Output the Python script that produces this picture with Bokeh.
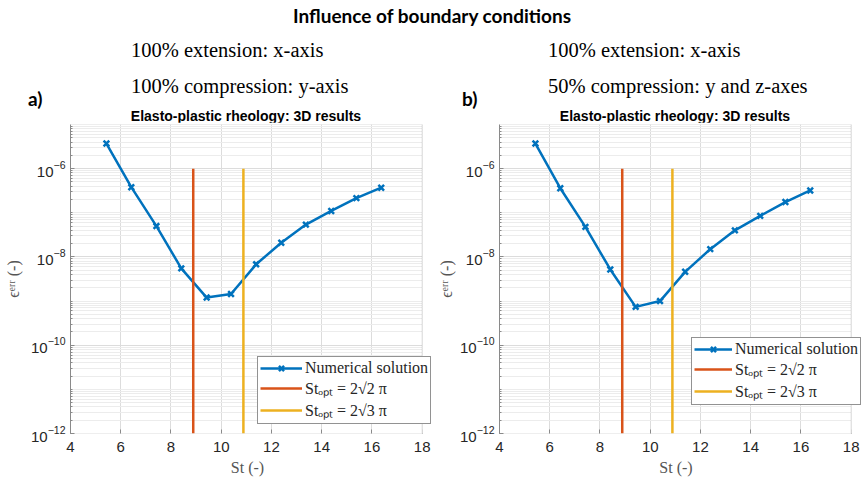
from bokeh.plotting import figure
from bokeh.models import FixedTicker, Legend, LegendItem, Div, ColumnDataSource, BoxAnnotation
from bokeh.layouts import column, row
from bokeh.embed import file_html
from bokeh.resources import INLINE

# ---------------- data ----------------
st = [5.43, 6.42, 7.42, 8.41, 9.42, 10.39, 11.39, 12.39, 13.37, 14.38, 15.38, 16.37]
err_a = [3.7e-6, 3.8e-7, 5.0e-8, 5.5e-9, 1.2e-9, 1.45e-9, 6.8e-9, 2.1e-8, 5.4e-8, 1.1e-7, 2.15e-7, 3.7e-7]
err_b = [3.7e-6, 3.6e-7, 4.8e-8, 5.2e-9, 7.4e-10, 1.0e-9, 4.6e-9, 1.5e-8, 4.0e-8, 8.5e-8, 1.75e-7, 3.2e-7]
st_opt = [8.886, 10.883]          # 2*sqrt(2)*pi, 2*sqrt(3)*pi
opt_y = [1e-12, 1e-6]
x_ticks = [4, 6, 8, 10, 12, 14, 16, 18]
y_ticks = [1e-12, 1e-10, 1e-8, 1e-6]
main_title = "Influence of boundary conditions"
panel_title = "Elasto-plastic rheology: 3D results"
sub_a = ["100% extension: x-axis", "100% compression: y-axis"]
sub_b = ["100% extension: x-axis", "50% compression: y and z-axes"]
legend_labels = ["Numerical solution", "Stₒₚₜ = 2√2 π", "Stₒₚₜ = 2√3 π"]

BLUE = "#0072BD"
RED = "#D95319"
YEL = "#EDB120"
TXT = "#262626"
FRAME = "#8a8a8a"

minor = []
for e in range(-12, -5):
    for k in range(1, 10):
        minor.append(k * 10.0 ** e)

PX_PER_UNIT = 25.12   # horizontal scale of the reference axes
TOP_H = 122
FIG_H = 480 - TOP_H


def make_panel(yvals, b_left, fig_w, leg_loc, pad_label, ylab_standoff, glyph_w):
    frame_w = fig_w - b_left
    x_end = 4 + frame_w / PX_PER_UNIT
    p = figure(width=fig_w, height=FIG_H, y_axis_type="log", x_range=(4, x_end), y_range=(1e-12, 1e-5),
               output_backend="svg", toolbar_location=None,
               min_border_left=b_left, min_border_right=0, min_border_top=2, min_border_bottom=47)
    p.background_fill_color = "white"
    p.border_fill_color = "white"
    p.outline_line_color = None

    xt = FixedTicker(ticks=x_ticks)
    yt = FixedTicker(ticks=y_ticks, minor_ticks=minor)
    p.xaxis.ticker = xt
    p.xgrid.ticker = xt
    p.yaxis.ticker = yt
    p.ygrid.ticker = yt

    for ax in (p.xaxis[0], p.yaxis[0]):
        ax.axis_line_color = FRAME
        ax.major_tick_line_color = FRAME
        ax.minor_tick_line_color = FRAME
        ax.major_tick_in = 4
        ax.major_tick_out = 0
        ax.minor_tick_in = 2
        ax.minor_tick_out = 0
        ax.major_label_text_font = "Liberation Sans"
        ax.major_label_text_font_size = "15px"
        ax.major_label_text_color = TXT
        ax.axis_label_text_font = "Liberation Serif"
        ax.axis_label_text_font_size = "16px"
        ax.axis_label_text_font_style = "normal"
        ax.axis_label_text_color = "#555555"
    p.xaxis.axis_line_color = None
    p.xaxis.minor_tick_line_color = None
    p.xaxis.major_label_standoff = 8
    p.yaxis.major_label_standoff = 5
    p.xaxis.axis_label = "St (-)" + "\u00a0" * pad_label
    p.yaxis.axis_label = "ϵᵉʳʳ (-)"
    p.xaxis.axis_label_standoff = 4
    p.yaxis.axis_label_standoff = ylab_standoff

    p.xgrid.grid_line_color = "#dcdcdc"
    p.ygrid.grid_line_color = "#dcdcdc"
    p.ygrid.minor_grid_line_color = "#ececec"

    src = ColumnDataSource(dict(x=st, y=yvals))
    ln = p.line("x", "y", source=src, line_color=BLUE, line_width=2.5)
    sc = p.scatter("x", "y", source=src, marker="x", size=8, line_color=BLUE, line_width=2.5)
    r1 = p.line([st_opt[0], st_opt[0]], opt_y, line_color=RED, line_width=2.5)
    r2 = p.line([st_opt[1], st_opt[1]], opt_y, line_color=YEL, line_width=2.5)

    # blank the strip right of x = 18 and draw the axes box
    p.add_layout(BoxAnnotation(left=18, fill_color="white", fill_alpha=1, line_color=None))
    p.add_layout(BoxAnnotation(left=4, right=18, bottom=1e-12, top=1e-5, fill_alpha=0,
                               line_color=FRAME, line_width=1))

    leg = Legend(items=[LegendItem(label=legend_labels[0], renderers=[ln, sc]),
                        LegendItem(label=legend_labels[1], renderers=[r1]),
                        LegendItem(label=legend_labels[2], renderers=[r2])],
                 location=leg_loc)
    leg.label_text_font = "Liberation Serif"
    leg.label_text_font_size = "16px"
    leg.label_text_color = TXT
    leg.border_line_color = "#262626"
    leg.border_line_width = 1
    leg.background_fill_alpha = 1
    leg.padding = 2
    leg.spacing = 0
    leg.margin = 0
    leg.glyph_width = glyph_w
    leg.glyph_height = 18
    leg.label_height = 18
    leg.label_standoff = 3
    p.add_layout(leg, "center")
    return p


pa = make_panel(err_a, 70, 432, (187, 9), 2, 6, 42)
pb = make_panel(err_b, 67, 432, (192, 28), 3, 2, 38)


def span(txt, left, top, font, extra=""):
    return ('<span style="position:absolute;left:%dpx;top:%dpx;transform:translateY(-50%%)%s;'
            'white-space:nowrap;line-height:1;font:%s;color:black">%s</span>' % (left, top, extra, font, txt))


serif = "20.5px 'Liberation Serif'"
html = '<div style="position:relative;width:864px;height:%dpx;">' % TOP_H
html += ('<div style="position:absolute;left:0;top:15px;width:864px;text-align:center;transform:translateY(-50%);'
         'line-height:1;font:bold 19px Lato;color:black">' + main_title + '</div>')
html += span(sub_a[0], 131, 50, serif)
html += span(sub_a[1], 131, 86, serif)
html += span(sub_b[0], 548, 50, serif)
html += span(sub_b[1], 548, 86, serif)
html += span("a)", 28, 98, "bold 19px Lato")
html += span("b)", 462, 98, "bold 19px Lato")
html += span(panel_title, 246, 116, "bold 14px 'Liberation Sans'", " translateX(-50%)")
html += span(panel_title, 675, 116, "bold 14px 'Liberation Sans'", " translateX(-50%)")
html += '</div>'

top = Div(text=html, width=864, height=TOP_H, margin=0)

layout = column(top, row(pa, pb, spacing=0), spacing=0)
open("out.html", "w").write(file_html(layout, INLINE))
